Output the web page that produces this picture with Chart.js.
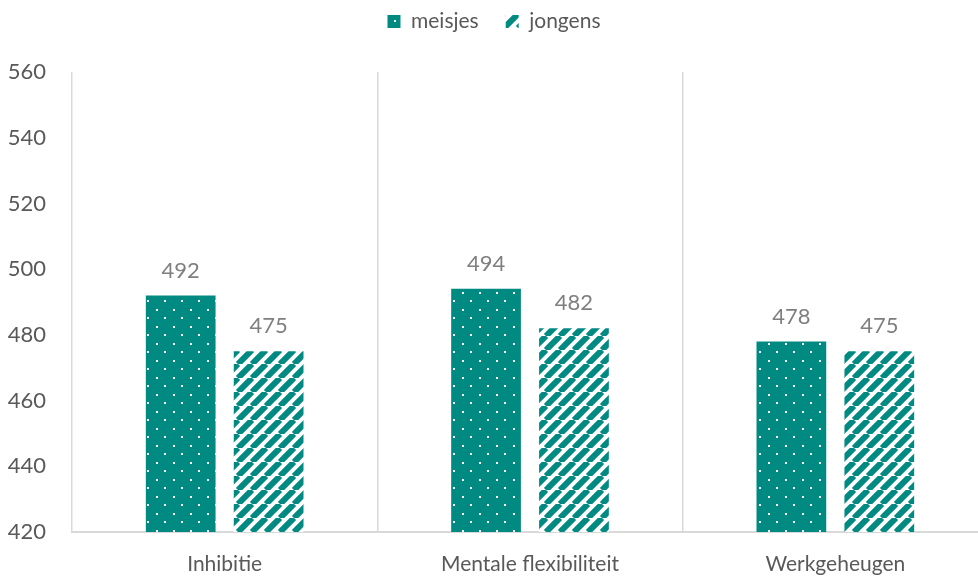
<!DOCTYPE html>
<html>
<head>
<meta charset="utf-8">
<script src="https://cdn.jsdelivr.net/npm/chart.js@4"></script>
<style>
  html, body { margin: 0; padding: 0; background: #fff; overflow: hidden; width: 978px; height: 581px; }
  /* the original plot area runs slightly past the right edge of the picture */
  #wrap { width: 988px; height: 581px; position: relative; }
</style>
</head>
<body>
<div id="wrap"><canvas id="chart"></canvas></div>
<script>
const CATEGORIES = ["Inhibitie", "Mentale flexibiliteit", "Werkgeheugen"];
const MEISJES = [492, 494, 478];
const JONGENS = [475, 482, 475];
const SERIES_NAMES = ["meisjes", "jongens"];

const TEAL = "#008a82";
const FONT = "Lato, 'Open Sans', sans-serif";

// dotted fill: staggered white dots on teal
const dotPattern = (() => {
  const c = document.createElement("canvas");
  c.width = 17; c.height = 17;
  const g = c.getContext("2d");
  g.fillStyle = TEAL;
  g.fillRect(0, 0, 17, 17);
  g.fillStyle = "#fff";
  g.fillRect(3, 3, 2, 2);
  g.fillRect(11, 11, 2, 2);
  return g.createPattern(c, "repeat");
})();

// upward diagonal stripes, teal on white
const stripePattern = (() => {
  const s = 14;
  const c = document.createElement("canvas");
  c.width = s; c.height = s;
  const g = c.getContext("2d");
  g.fillStyle = "#fff";
  g.fillRect(0, 0, s, s);
  g.strokeStyle = TEAL;
  g.lineWidth = 6;
  g.beginPath();
  for (let k = -1; k <= 1; k++) {
    g.moveTo(k * s, s);
    g.lineTo(k * s + s, 0);
  }
  g.stroke();
  return g.createPattern(c, "repeat");
})();

const valueLabels = {
  id: "valueLabels",
  afterDatasetsDraw(chart) {
    const ctx = chart.ctx;
    ctx.save();
    ctx.font = "22px " + FONT;
    ctx.fillStyle = "#7f7f7f";
    ctx.textAlign = "center";
    ctx.textBaseline = "bottom";
    chart.data.datasets.forEach((ds, i) => {
      chart.getDatasetMeta(i).data.forEach((bar, j) => {
        ctx.fillText(ds.data[j], bar.x, bar.y - 14);
      });
    });
    ctx.restore();
  },
};

// fixed legend block height so the plot starts where the original does
const legendHeight = {
  id: "legendHeight",
  afterInit(chart) {
    const fit = chart.legend.fit;
    chart.legend.fit = function () {
      fit.call(this);
      this.height = 88;
    };
  },
};

new Chart(document.getElementById("chart"), {
  type: "bar",
  data: {
    labels: CATEGORIES,
    datasets: [
      { label: SERIES_NAMES[0], data: MEISJES, backgroundColor: dotPattern },
      { label: SERIES_NAMES[1], data: JONGENS, backgroundColor: stripePattern },
    ],
  },
  options: {
    responsive: true,
    maintainAspectRatio: false,
    animation: false,
    categoryPercentage: 0.576,
    barPercentage: 0.793,
    layout: { padding: { top: -16, right: 0, left: 0, bottom: 0 } },
    plugins: {
      legend: {
        position: "top",
        labels: {
          boxWidth: 13,
          boxHeight: 13,
          padding: 27,
          color: "#595959",
          font: { family: FONT, size: 21 },
        },
      },
      tooltip: { enabled: false },
    },
    scales: {
      x: {
        grid: { offset: true, color: "#d9d9d9", lineWidth: 1.5, drawTicks: false },
        border: { color: "#d9d9d9", width: 2 },
        ticks: { color: "#595959", font: { family: FONT, size: 21 }, padding: 20 },
        afterFit: (s) => { s.height = 49; },
      },
      y: {
        min: 420,
        max: 560,
        ticks: { stepSize: 20, color: "#595959", font: { family: FONT, size: 22 }, padding: 18 },
        grid: { display: false },
        border: { display: false },
        afterFit: (s) => { s.width = 72; },
      },
    },
  },
  plugins: [valueLabels, legendHeight],
});
</script>
</body>
</html>
